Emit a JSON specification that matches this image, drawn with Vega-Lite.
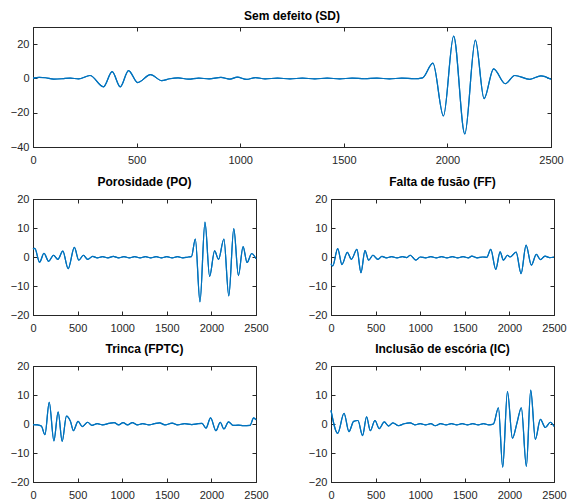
{
  "$schema": "https://vega.github.io/schema/vega-lite/v6.json",
  "padding": {"left": 9, "top": 9, "right": 5, "bottom": 0},
  "spacing": 9,
  "datasets": {
    "SD": [
      {"x":0,"y":0.2},{"x":30,"y":0.6},{"x":60,"y":0.4},{"x":100,"y":-0.4},{"x":140,"y":-0.2},{"x":180,"y":0.2},{"x":220,"y":-0.3},{"x":275,"y":1.7},{"x":340,"y":-4.9},{"x":382,"y":4.0},{"x":421,"y":-4.9},{"x":461,"y":4.6},{"x":505,"y":-2.4},{"x":567,"y":2.2},{"x":621,"y":-1.3},{"x":660,"y":-0.2},{"x":700,"y":0.3},{"x":750,"y":-0.4},{"x":800,"y":0.2},{"x":850,"y":-0.3},{"x":907,"y":0.6},{"x":950,"y":-0.4},{"x":986,"y":0.8},{"x":1030,"y":-0.6},{"x":1074,"y":0.5},{"x":1120,"y":-0.3},{"x":1180,"y":0.2},{"x":1240,"y":-0.3},{"x":1300,"y":0.2},{"x":1360,"y":-0.3},{"x":1420,"y":0.2},{"x":1480,"y":-0.3},{"x":1540,"y":0.2},{"x":1600,"y":-0.2},{"x":1660,"y":0.2},{"x":1720,"y":-0.3},{"x":1780,"y":0.2},{"x":1840,"y":-0.2},{"x":1880,"y":0.3},{"x":1930,"y":8.9},{"x":1981,"y":-21.9},{"x":2030,"y":24.7},{"x":2084,"y":-32.4},{"x":2135,"y":22.3},{"x":2177,"y":-11.8},{"x":2223,"y":5.6},{"x":2279,"y":-3.1},{"x":2325,"y":1.7},{"x":2398,"y":-0.5},{"x":2451,"y":1.5},{"x":2500,"y":-0.5}
    ],
    "PO": [
      {"x":0,"y":2.8},{"x":20,"y":3.0},{"x":74,"y":-1.8},{"x":123,"y":1.3},{"x":175,"y":-1.5},{"x":230,"y":0.6},{"x":279,"y":-0.8},{"x":334,"y":2.0},{"x":394,"y":-4.0},{"x":464,"y":3.3},{"x":513,"y":-1.1},{"x":565,"y":0.6},{"x":613,"y":-0.8},{"x":669,"y":0.2},{"x":720,"y":-0.3},{"x":780,"y":0.1},{"x":840,"y":-0.3},{"x":900,"y":0.2},{"x":960,"y":-0.3},{"x":1020,"y":0.1},{"x":1080,"y":-0.3},{"x":1140,"y":0.1},{"x":1200,"y":-0.3},{"x":1260,"y":0.1},{"x":1320,"y":-0.3},{"x":1380,"y":0.1},{"x":1440,"y":-0.3},{"x":1500,"y":0.1},{"x":1560,"y":-0.3},{"x":1620,"y":0.1},{"x":1680,"y":-0.3},{"x":1740,"y":0.0},{"x":1776,"y":0.1},{"x":1820,"y":6.2},{"x":1872,"y":-15.5},{"x":1928,"y":12.0},{"x":1980,"y":-6.7},{"x":2036,"y":2.1},{"x":2080,"y":-0.8},{"x":2140,"y":6.2},{"x":2195,"y":-13.4},{"x":2251,"y":9.8},{"x":2303,"y":-6.4},{"x":2355,"y":3.6},{"x":2400,"y":-1.9},{"x":2452,"y":1.2},{"x":2500,"y":-0.6}
    ],
    "FF": [
      {"x":0,"y":-2.3},{"x":19,"y":-3.1},{"x":75,"y":2.9},{"x":123,"y":-2.6},{"x":183,"y":1.6},{"x":228,"y":-0.8},{"x":291,"y":2.6},{"x":336,"y":-5.4},{"x":381,"y":2.2},{"x":422,"y":-1.1},{"x":470,"y":0.6},{"x":526,"y":-0.8},{"x":571,"y":0.2},{"x":620,"y":-0.3},{"x":680,"y":0.1},{"x":740,"y":-0.3},{"x":800,"y":0.1},{"x":850,"y":-0.2},{"x":888,"y":0.6},{"x":951,"y":-1.1},{"x":1000,"y":0.0},{"x":1060,"y":-0.3},{"x":1120,"y":0.1},{"x":1180,"y":-0.3},{"x":1240,"y":0.1},{"x":1300,"y":-0.3},{"x":1360,"y":0.1},{"x":1420,"y":-0.3},{"x":1480,"y":0.1},{"x":1540,"y":-0.3},{"x":1578,"y":0.3},{"x":1640,"y":-0.3},{"x":1700,"y":0.0},{"x":1746,"y":-0.1},{"x":1791,"y":2.6},{"x":1847,"y":-4.3},{"x":1896,"y":1.8},{"x":1933,"y":-1.1},{"x":1978,"y":0.6},{"x":2007,"y":0.0},{"x":2075,"y":1.7},{"x":2131,"y":-5.7},{"x":2187,"y":4.1},{"x":2246,"y":-2.8},{"x":2302,"y":0.9},{"x":2347,"y":-0.9},{"x":2399,"y":0.3},{"x":2450,"y":-0.2},{"x":2500,"y":0.0}
    ],
    "FPTC": [
      {"x":0,"y":-0.2},{"x":50,"y":-0.3},{"x":93,"y":-0.7},{"x":134,"y":-3.7},{"x":182,"y":7.5},{"x":234,"y":-5.8},{"x":282,"y":4.2},{"x":327,"y":-6.0},{"x":375,"y":2.7},{"x":420,"y":0.9},{"x":453,"y":-2.3},{"x":505,"y":0.9},{"x":553,"y":-0.9},{"x":613,"y":0.6},{"x":661,"y":-0.5},{"x":720,"y":0.1},{"x":780,"y":-0.3},{"x":850,"y":0.2},{"x":910,"y":0.5},{"x":960,"y":-0.3},{"x":1010,"y":0.5},{"x":1060,"y":-0.3},{"x":1114,"y":0.5},{"x":1170,"y":-0.3},{"x":1230,"y":0.1},{"x":1300,"y":-0.3},{"x":1360,"y":0.1},{"x":1419,"y":0.4},{"x":1480,"y":-0.3},{"x":1560,"y":0.3},{"x":1620,"y":-0.3},{"x":1700,"y":0.1},{"x":1780,"y":-0.2},{"x":1850,"y":0.1},{"x":1895,"y":0.2},{"x":1939,"y":-1.4},{"x":1991,"y":2.1},{"x":2051,"y":-2.3},{"x":2099,"y":0.6},{"x":2140,"y":-1.7},{"x":2192,"y":0.7},{"x":2244,"y":-0.5},{"x":2300,"y":-0.4},{"x":2360,"y":-0.6},{"x":2433,"y":-0.5},{"x":2474,"y":2.1},{"x":2500,"y":1.4}
    ],
    "IC": [
      {"x":0,"y":4.7},{"x":75,"y":-3.2},{"x":146,"y":3.7},{"x":201,"y":-2.6},{"x":254,"y":0.9},{"x":302,"y":1.2},{"x":354,"y":-4.0},{"x":399,"y":2.5},{"x":440,"y":-2.3},{"x":493,"y":1.2},{"x":541,"y":-1.6},{"x":597,"y":0.7},{"x":646,"y":-0.7},{"x":694,"y":0.4},{"x":757,"y":-0.6},{"x":820,"y":0.1},{"x":888,"y":0.4},{"x":940,"y":-0.3},{"x":1000,"y":0.1},{"x":1060,"y":-0.3},{"x":1120,"y":0.1},{"x":1168,"y":-0.6},{"x":1230,"y":0.1},{"x":1290,"y":-0.3},{"x":1350,"y":0.1},{"x":1410,"y":-0.3},{"x":1470,"y":0.1},{"x":1530,"y":-0.3},{"x":1590,"y":0.1},{"x":1650,"y":-0.3},{"x":1710,"y":0.1},{"x":1770,"y":-0.3},{"x":1821,"y":0.0},{"x":1877,"y":5.6},{"x":1925,"y":-14.9},{"x":1978,"y":11.2},{"x":2034,"y":-4.9},{"x":2086,"y":0.5},{"x":2134,"y":5.6},{"x":2190,"y":-14.6},{"x":2239,"y":11.7},{"x":2291,"y":-5.3},{"x":2347,"y":1.6},{"x":2403,"y":-1.2},{"x":2459,"y":0.6},{"x":2500,"y":-0.8}
    ]
  },
  "vconcat": [
    {
      "title": "Sem defeito (SD)",
      "width": 518, "height": 120,
      "data": {"name": "SD"},
      "layer": [
        {"mark": {"type": "line", "interpolate": "monotone", "color": "#0072BD", "strokeWidth": 1.2},
         "encoding": {
           "x": {"field": "x", "type": "quantitative", "scale": {"domain": [0, 2500], "nice": false}, "axis": {"values": [0,500,1000,1500,2000,2500], "format": "d", "labelPadding": 11, "title": null}},
           "y": {"field": "y", "type": "quantitative", "scale": {"domain": [-40, 30], "nice": false}, "axis": {"values": [-40,-20,0,20], "format": "d", "labelPadding": 8, "title": null}}}},
        {"mark": {"type": "line", "interpolate": "monotone", "color": "#0072BD", "strokeWidth": 1.2},
         "encoding": {
           "x": {"field": "x", "type": "quantitative", "axis": {"orient": "top", "labels": false, "domain": false, "values": [0,500,1000,1500,2000,2500], "title": null}},
           "y": {"field": "y", "type": "quantitative", "axis": {"orient": "right", "labels": false, "domain": false, "values": [-40,-20,0,20], "title": null}}}}
      ],
      "resolve": {"axis": {"x": "independent", "y": "independent"}}
    },
    {
      "spacing": 8,
      "vconcat": [
        {
          "spacing": 38,
          "hconcat": [
            {
              "title": "Porosidade (PO)",
              "width": 223, "height": 116,
              "data": {"name": "PO"},
              "layer": [
                {"mark": {"type": "line", "interpolate": "monotone", "color": "#0072BD", "strokeWidth": 1.2},
                 "encoding": {
                   "x": {"field": "x", "type": "quantitative", "scale": {"domain": [0, 2500], "nice": false}, "axis": {"values": [0,500,1000,1500,2000,2500], "format": "d", "labelPadding": 11, "title": null}},
                   "y": {"field": "y", "type": "quantitative", "scale": {"domain": [-20, 20], "nice": false}, "axis": {"values": [-20,-10,0,10,20], "format": "d", "labelPadding": 8, "title": null}}}},
                {"mark": {"type": "line", "interpolate": "monotone", "color": "#0072BD", "strokeWidth": 1.2},
                 "encoding": {
                   "x": {"field": "x", "type": "quantitative", "axis": {"orient": "top", "labels": false, "domain": false, "values": [0,500,1000,1500,2000,2500], "title": null}},
                   "y": {"field": "y", "type": "quantitative", "axis": {"orient": "right", "labels": false, "domain": false, "values": [-20,-10,0,10,20], "title": null}}}}
              ],
              "resolve": {"axis": {"x": "independent", "y": "independent"}}
            },
            {
              "title": "Falta de fusão (FF)",
              "width": 223, "height": 116,
              "data": {"name": "FF"},
              "layer": [
                {"mark": {"type": "line", "interpolate": "monotone", "color": "#0072BD", "strokeWidth": 1.2},
                 "encoding": {
                   "x": {"field": "x", "type": "quantitative", "scale": {"domain": [0, 2500], "nice": false}, "axis": {"values": [0,500,1000,1500,2000,2500], "format": "d", "labelPadding": 11, "title": null}},
                   "y": {"field": "y", "type": "quantitative", "scale": {"domain": [-20, 20], "nice": false}, "axis": {"values": [-20,-10,0,10,20], "format": "d", "labelPadding": 8, "title": null}}}},
                {"mark": {"type": "line", "interpolate": "monotone", "color": "#0072BD", "strokeWidth": 1.2},
                 "encoding": {
                   "x": {"field": "x", "type": "quantitative", "axis": {"orient": "top", "labels": false, "domain": false, "values": [0,500,1000,1500,2000,2500], "title": null}},
                   "y": {"field": "y", "type": "quantitative", "axis": {"orient": "right", "labels": false, "domain": false, "values": [-20,-10,0,10,20], "title": null}}}}
              ],
              "resolve": {"axis": {"x": "independent", "y": "independent"}}
            }
          ]
        },
        {
          "spacing": 38,
          "hconcat": [
            {
              "title": "Trinca (FPTC)",
              "width": 223, "height": 116,
              "data": {"name": "FPTC"},
              "layer": [
                {"mark": {"type": "line", "interpolate": "monotone", "color": "#0072BD", "strokeWidth": 1.2},
                 "encoding": {
                   "x": {"field": "x", "type": "quantitative", "scale": {"domain": [0, 2500], "nice": false}, "axis": {"values": [0,500,1000,1500,2000,2500], "format": "d", "labelPadding": 11, "title": null}},
                   "y": {"field": "y", "type": "quantitative", "scale": {"domain": [-20, 20], "nice": false}, "axis": {"values": [-20,-10,0,10,20], "format": "d", "labelPadding": 8, "title": null}}}},
                {"mark": {"type": "line", "interpolate": "monotone", "color": "#0072BD", "strokeWidth": 1.2},
                 "encoding": {
                   "x": {"field": "x", "type": "quantitative", "axis": {"orient": "top", "labels": false, "domain": false, "values": [0,500,1000,1500,2000,2500], "title": null}},
                   "y": {"field": "y", "type": "quantitative", "axis": {"orient": "right", "labels": false, "domain": false, "values": [-20,-10,0,10,20], "title": null}}}}
              ],
              "resolve": {"axis": {"x": "independent", "y": "independent"}}
            },
            {
              "title": "Inclusão de escória (IC)",
              "width": 223, "height": 116,
              "data": {"name": "IC"},
              "layer": [
                {"mark": {"type": "line", "interpolate": "monotone", "color": "#0072BD", "strokeWidth": 1.2},
                 "encoding": {
                   "x": {"field": "x", "type": "quantitative", "scale": {"domain": [0, 2500], "nice": false}, "axis": {"values": [0,500,1000,1500,2000,2500], "format": "d", "labelPadding": 11, "title": null}},
                   "y": {"field": "y", "type": "quantitative", "scale": {"domain": [-20, 20], "nice": false}, "axis": {"values": [-20,-10,0,10,20], "format": "d", "labelPadding": 8, "title": null}}}},
                {"mark": {"type": "line", "interpolate": "monotone", "color": "#0072BD", "strokeWidth": 1.2},
                 "encoding": {
                   "x": {"field": "x", "type": "quantitative", "axis": {"orient": "top", "labels": false, "domain": false, "values": [0,500,1000,1500,2000,2500], "title": null}},
                   "y": {"field": "y", "type": "quantitative", "axis": {"orient": "right", "labels": false, "domain": false, "values": [-20,-10,0,10,20], "title": null}}}}
              ],
              "resolve": {"axis": {"x": "independent", "y": "independent"}}
            }
          ]
        }
      ]
    }
  ],
  "config": {
    "background": "#ffffff",
    "view": {"stroke": "#262626", "strokeWidth": 1},
    "axis": {"grid": false, "domainColor": "#262626", "tickColor": "#262626", "labelColor": "#262626", "labelFont": "Liberation Sans", "labelFontSize": 11, "tickSize": -4, "labelFlush": false, "labelOverlap": false, "domainWidth": 1, "tickWidth": 1},
    "title": {"font": "Liberation Sans", "fontSize": 12, "fontWeight": "bold", "color": "#000000", "offset": 4}
  }
}
